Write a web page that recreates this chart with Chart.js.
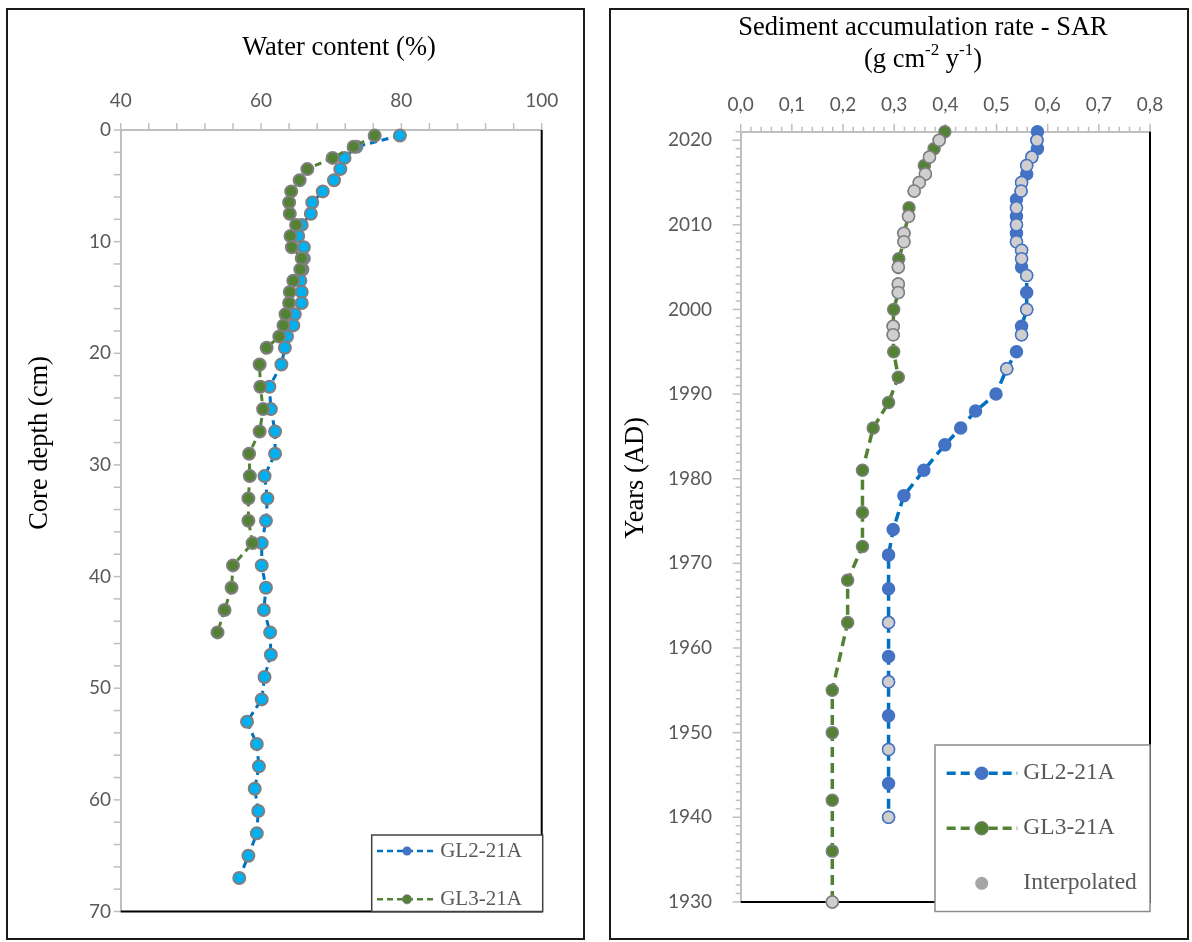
<!DOCTYPE html>
<html>
<head>
<meta charset="utf-8">
<title>Water content and sediment accumulation rate</title>
<script src="https://cdn.jsdelivr.net/npm/chart.js@4.4.1/dist/chart.umd.min.js"></script>
<style>
  html, body { margin: 0; padding: 0; background: #ffffff; }
  body { width: 1192px; height: 942px; position: relative; overflow: hidden; }
  .frame { position: absolute; border: 2px solid #1a1a1a; box-sizing: border-box; }
  #frameWater { left: 6px; top: 8px; width: 579px; height: 932px; }
  #frameSar { left: 609px; top: 8px; width: 580px; height: 932px; }
  canvas { position: absolute; top: 0; }
  #water { left: 0; }
  #sar { left: 596px; }
</style>
</head>
<body>
<div class="frame" id="frameWater"></div>
<div class="frame" id="frameSar"></div>
<canvas id="water" width="596" height="942"></canvas>
<canvas id="sar" width="596" height="942"></canvas>
<script>
// ---- Water content profiles: core depth (cm) and water content (%) ----
const depthGL2 = [0.5, 1.5, 2.5, 3.5, 4.5, 5.5, 6.5, 7.5, 8.5, 9.5, 10.5, 11.5, 12.5, 13.5, 14.5, 15.5, 16.5, 17.5, 18.5, 19.5,
                  21, 23, 25, 27, 29, 31, 33, 35, 37, 39, 41, 43, 45, 47, 49, 51, 53, 55, 57, 59, 61, 63, 65, 67];
const waterGL2 = [79.8, 73.6, 71.9, 71.3, 70.4, 68.8, 67.3, 67.1, 65.8, 65.3, 66.1, 66.1, 65.9, 65.6, 65.8, 65.8, 64.8, 64.6, 63.7, 63.4,
                  62.9, 61.2, 61.4, 62.0, 62.0, 60.5, 60.9, 60.7, 60.1, 60.1, 60.7, 60.4, 61.3, 61.4, 60.5, 60.1, 58.0, 59.4, 59.7, 59.1, 59.6, 59.4, 58.2, 56.9];
const depthGL3 = [0.5, 1.5, 2.5, 3.5, 4.5, 5.5, 6.5, 7.5, 8.5, 9.5, 10.5, 11.5, 12.5, 13.5, 14.5, 15.5, 16.5, 17.5, 18.5, 19.5,
                  21, 23, 25, 27, 29, 31, 33, 35, 37, 39, 41, 43, 45];
const waterGL3 = [76.2, 73.2, 70.2, 66.6, 65.5, 64.3, 64.0, 64.1, 65.0, 64.2, 64.4, 65.8, 65.6, 64.6, 64.1, 64.0, 63.5, 63.2, 62.6, 60.8,
                  59.8, 59.9, 60.3, 59.8, 58.3, 58.4, 58.2, 58.2, 58.8, 56.0, 55.8, 54.8, 53.8];

// ---- Sediment accumulation rate (g cm-2 y-1) per year; 1 marks an interpolated value ----
const yearGL2 = [2021, 2020, 2019, 2018, 2017, 2016, 2015, 2014, 2013, 2012, 2011, 2010, 2009, 2008, 2007, 2006, 2005, 2004, 2002, 2000,
                 1998, 1997, 1995, 1993, 1990, 1988, 1986, 1984, 1981, 1978, 1974, 1971, 1967, 1963, 1959, 1956, 1952, 1948, 1944, 1940];
const sarGL2 = [0.580, 0.579, 0.580, 0.569, 0.559, 0.559, 0.549, 0.548, 0.539, 0.539, 0.539, 0.539, 0.539, 0.539, 0.549, 0.549, 0.549, 0.559, 0.559, 0.559,
                0.549, 0.549, 0.539, 0.520, 0.499, 0.459, 0.430, 0.399, 0.358, 0.319, 0.298, 0.289, 0.289, 0.289, 0.289, 0.289, 0.289, 0.289, 0.289, 0.289];
const interpGL2 = [0, 1, 0, 1, 1, 0, 1, 1, 0, 1, 0, 1, 0, 1, 1, 1, 0, 1, 0, 1,
                   0, 1, 0, 1, 0, 0, 0, 0, 0, 0, 0, 0, 0, 1, 0, 1, 0, 1, 0, 1];
const yearGL3 = [2021, 2020, 2019, 2018, 2017, 2016, 2015, 2014, 2012, 2011, 2009, 2008, 2006, 2005, 2003, 2002, 2000, 1998, 1997, 1995,
                 1992, 1989, 1986, 1981, 1976, 1972, 1968, 1963, 1955, 1950, 1942, 1936, 1930];
const sarGL3 = [0.399, 0.388, 0.378, 0.369, 0.359, 0.361, 0.349, 0.339, 0.329, 0.328, 0.319, 0.319, 0.309, 0.308, 0.308, 0.308, 0.299, 0.298, 0.298, 0.299,
                0.308, 0.289, 0.259, 0.238, 0.238, 0.238, 0.209, 0.209, 0.179, 0.179, 0.179, 0.179, 0.179];
const interpGL3 = [0, 1, 0, 1, 0, 1, 1, 1, 0, 1, 1, 1, 0, 1, 1, 1, 0, 1, 1, 0,
                   0, 0, 0, 0, 0, 0, 0, 0, 0, 0, 0, 0, 1];

// ---- Axis ticks ----
const waterTicks = [40, 60, 80, 100];
const depthTicks = [0, 10, 20, 30, 40, 50, 60, 70];
const sarTicks = [0, 0.1, 0.2, 0.3, 0.4, 0.5, 0.6, 0.7, 0.8];
const yearTicks = [1930, 1940, 1950, 1960, 1970, 1980, 1990, 2000, 2010, 2020];

// ---- Text ----
const SERIES_GL2 = 'GL2-21A';
const SERIES_GL3 = 'GL3-21A';
const SERIES_INTERP = 'Interpolated';
const TITLE_WATER = 'Water content (%)';
const TITLE_DEPTH = 'Core depth (cm)';
const TITLE_SAR = 'Sediment accumulation rate - SAR';
const TITLE_SAR_UNITS = [{ text: '(g cm' }, { text: '-2', sup: true }, { text: ' y' }, { text: '-1', sup: true }, { text: ')' }];
const TITLE_YEARS = 'Years (AD)';

const SERIF = '"Liberation Serif", "Times New Roman", serif';
const SANS = 'Lato, "Open Sans", sans-serif';
const AXIS_GREY = '#BFBFBF';
const LABEL_GREY = '#595959';

// Tick marks (major + minor) drawn from the scales
const tickMarks = {
  id: 'tickMarks',
  beforeDatasetsDraw(chart, args, o) {
    const ctx = chart.ctx;
    ctx.save();
    ctx.strokeStyle = o.color;
    ctx.lineWidth = o.width;
    for (const a of o.axes) {
      const s = chart.scales[a.id];
      const n = Math.round((s.max - s.min) / a.minor);
      for (let i = 0; i <= n; i++) {
        const v = s.min + i * a.minor;
        const k = (v - a.base) / a.major;
        const len = Math.abs(k - Math.round(k)) < 1e-6 ? a.majorLen : a.minorLen;
        const p = s.getPixelForValue(v);
        ctx.beginPath();
        if (s.isHorizontal()) { ctx.moveTo(p, s.bottom); ctx.lineTo(p, s.bottom - len); }
        else { ctx.moveTo(s.right, p); ctx.lineTo(s.right - len, p); }
        ctx.stroke();
      }
    }
    ctx.restore();
  }
};

// Black edges on the right and bottom of the plot area
const plotFrame = {
  id: 'plotFrame',
  beforeDatasetsDraw(chart, args, o) {
    const { ctx, chartArea: a } = chart;
    ctx.save();
    ctx.strokeStyle = o.color;
    ctx.lineWidth = o.width;
    ctx.beginPath();
    ctx.moveTo(a.right, a.top);
    ctx.lineTo(a.right, a.bottom);
    ctx.lineTo(a.left, a.bottom);
    ctx.stroke();
    ctx.restore();
  }
};

// Boxed legend inside the plot area
const boxLegend = {
  id: 'boxLegend',
  afterDraw(chart, args, o) {
    const ctx = chart.ctx;
    ctx.save();
    ctx.fillStyle = '#ffffff';
    ctx.fillRect(o.x, o.y, o.w, o.h);
    ctx.strokeStyle = o.border;
    ctx.lineWidth = o.borderWidth;
    ctx.strokeRect(o.x, o.y, o.w, o.h);
    o.items.forEach((it, i) => {
      const y = o.y + o.firstY + i * o.step;
      if (it.line) {
        ctx.setLineDash(it.dash);
        ctx.strokeStyle = it.line;
        ctx.lineWidth = it.lineWidth;
        ctx.beginPath();
        ctx.moveTo(o.x + o.lineX0, y);
        ctx.lineTo(o.x + o.lineX1, y);
        ctx.stroke();
        ctx.setLineDash([]);
      }
      ctx.beginPath();
      ctx.arc(o.x + o.markX, y, it.r, 0, Math.PI * 2);
      ctx.fillStyle = it.fill;
      ctx.fill();
      if (it.stroke) { ctx.strokeStyle = it.stroke; ctx.lineWidth = it.strokeWidth; ctx.stroke(); }
      ctx.fillStyle = o.color;
      ctx.font = o.font;
      ctx.textAlign = 'left';
      ctx.textBaseline = 'middle';
      ctx.fillText(it.label, o.x + o.textX, y);
    });
    ctx.restore();
  }
};

// Chart and axis titles (supports superscript parts)
const textLayer = {
  id: 'textLayer',
  afterDraw(chart, args, o) {
    const ctx = chart.ctx;
    for (const t of o.items) {
      ctx.save();
      ctx.translate(t.x, t.y);
      if (t.rotate) ctx.rotate(t.rotate);
      ctx.fillStyle = t.color || '#000000';
      ctx.textBaseline = 'middle';
      ctx.textAlign = 'left';
      const parts = t.parts || [{ text: t.text }];
      let total = 0;
      const sized = parts.map(p => {
        const f = `${p.sup ? t.supSize : t.size}px ${SERIF}`;
        ctx.font = f;
        const w = ctx.measureText(p.text).width;
        total += w;
        return { p, f, w };
      });
      let x = -total / 2;
      for (const s of sized) {
        ctx.font = s.f;
        ctx.fillText(s.p.text, x, s.p.sup ? -t.supRise : 0);
        x += s.w;
      }
      ctx.restore();
    }
  }
};

const tickFont = { family: SANS, size: 19 };

function axisBase(padding) {
  return {
    type: 'linear',
    grid: { display: false, drawTicks: false },
    border: { display: true, color: AXIS_GREY, width: 2 },
    ticks: { color: LABEL_GREY, font: tickFont, autoSkip: false, maxRotation: 0, padding: padding }
  };
}

// ---------------- Water content chart ----------------
const waterX = Object.assign(axisBase(18), {
  position: 'top', min: 40, max: 100,
  afterBuildTicks: ax => { ax.ticks = waterTicks.map(v => ({ value: v })); },
  afterFit: ax => { ax.height = 130; }
});

const waterY = Object.assign(axisBase(9.7), {
  position: 'left', reverse: true, min: 0, max: 70,
  afterBuildTicks: ax => { ax.ticks = depthTicks.map(v => ({ value: v })); },
  afterFit: ax => { ax.width = 120.7; }
});

new Chart(document.getElementById('water'), {
  type: 'scatter',
  data: {
    datasets: [
      {
        label: SERIES_GL2,
        data: depthGL2.map((d, i) => ({ x: waterGL2[i], y: d })),
        showLine: true, borderColor: '#0070C0', borderWidth: 3, borderDash: [7, 5],
        pointRadius: 6, pointBackgroundColor: '#00B0F0', pointBorderColor: '#7F7F7F', pointBorderWidth: 2,
        order: 2, clip: false
      },
      {
        label: SERIES_GL3,
        data: depthGL3.map((d, i) => ({ x: waterGL3[i], y: d })),
        showLine: true, borderColor: '#548235', borderWidth: 3, borderDash: [7, 5],
        pointRadius: 6, pointBackgroundColor: '#548235', pointBorderColor: '#7F7F7F', pointBorderWidth: 2,
        order: 1, clip: false
      }
    ]
  },
  options: {
    responsive: false, animation: false, devicePixelRatio: 1, events: [],
    layout: { padding: { left: 0, top: 0, right: 54.3, bottom: 30.5 } },
    scales: { x: waterX, y: waterY },
    plugins: {
      legend: { display: false },
      tooltip: { enabled: false },
      tickMarks: {
        color: AXIS_GREY, width: 1.5,
        axes: [
          { id: 'x', base: 40, major: 20, minor: 4, majorLen: 7, minorLen: 7 },
          { id: 'y', base: 0, major: 10, minor: 2, majorLen: 7, minorLen: 7 }
        ]
      },
      plotFrame: { color: '#000000', width: 2 },
      boxLegend: {
        x: 371.7, y: 835, w: 171, h: 76.5, border: '#404040', borderWidth: 1.5,
        firstY: 16, step: 48.3, lineX0: 5.3, lineX1: 65.3, markX: 35.3, textX: 68.5,
        color: LABEL_GREY, font: `21px ${SERIF}`,
        items: [
          { label: SERIES_GL2, line: '#0070C0', dash: [6, 4], lineWidth: 2.5, fill: '#4472C4', r: 4.5 },
          { label: SERIES_GL3, line: '#548235', dash: [6, 4], lineWidth: 2.5, fill: '#548235', stroke: '#7F7F7F', strokeWidth: 1, r: 4.5 }
        ]
      },
      textLayer: {
        items: [
          { text: TITLE_WATER, x: 339, y: 48, size: 26.5 },
          { text: TITLE_DEPTH, x: 40, y: 443, size: 26.5, rotate: -Math.PI / 2 }
        ]
      }
    }
  },
  plugins: [tickMarks, plotFrame, boxLegend, textLayer]
});

// ---------------- Sediment accumulation rate chart ----------------
const sarX = Object.assign(axisBase(15), {
  position: 'top', min: 0, max: 0.8,
  afterBuildTicks: ax => { ax.ticks = sarTicks.map(v => ({ value: v })); },
  afterFit: ax => { ax.height = 131.7; }
});
sarX.ticks.callback = v => v.toFixed(1).replace('.', ',');

const sarY = Object.assign(axisBase(28.7), {
  position: 'left', min: 1930, max: 2021,
  afterBuildTicks: ax => { ax.ticks = yearTicks.map(v => ({ value: v })); },
  afterFit: ax => { ax.width = 144.7; }
});
sarY.ticks.callback = v => String(v);

const pick = (years, vals, flags, want) =>
  years.map((y, i) => ({ x: vals[i], y, f: flags[i] })).filter(p => p.f === want).map(p => ({ x: p.x, y: p.y }));

new Chart(document.getElementById('sar'), {
  type: 'scatter',
  data: {
    datasets: [
      {
        label: SERIES_GL2,
        data: yearGL2.map((y, i) => ({ x: sarGL2[i], y })),
        showLine: true, borderColor: '#0070C0', borderWidth: 3.5, borderDash: [10, 6],
        pointRadius: 6, pointBackgroundColor: '#4472C4', pointBorderColor: '#4472C4', pointBorderWidth: 1.5,
        order: 3, clip: false
      },
      {
        label: SERIES_GL3,
        data: yearGL3.map((y, i) => ({ x: sarGL3[i], y })),
        showLine: true, borderColor: '#548235', borderWidth: 3.5, borderDash: [10, 6],
        pointRadius: 6, pointBackgroundColor: '#548235', pointBorderColor: '#7F7F7F', pointBorderWidth: 1.5,
        order: 2, clip: false
      },
      {
        label: SERIES_INTERP,
        data: pick(yearGL2, sarGL2, interpGL2, 1),
        showLine: false,
        pointRadius: 6, pointBackgroundColor: '#D0CECE', pointBorderColor: '#4472C4', pointBorderWidth: 1.5,
        order: 1, clip: false
      },
      {
        label: SERIES_INTERP,
        data: pick(yearGL3, sarGL3, interpGL3, 1),
        showLine: false,
        pointRadius: 6, pointBackgroundColor: '#D0CECE', pointBorderColor: '#7F7F7F', pointBorderWidth: 1.5,
        order: 0, clip: false
      }
    ]
  },
  options: {
    responsive: false, animation: false, devicePixelRatio: 1, events: [],
    layout: { padding: { left: 0, top: 0, right: 42, bottom: 30.5 } },
    scales: { x: sarX, y: sarY },
    plugins: {
      legend: { display: false },
      tooltip: { enabled: false },
      tickMarks: {
        color: AXIS_GREY, width: 1.5,
        axes: [
          { id: 'x', base: 0, major: 0.1, minor: 0.02, majorLen: 8, minorLen: 5 },
          { id: 'y', base: 1930, major: 10, minor: 1, majorLen: 8, minorLen: 5 }
        ]
      },
      plotFrame: { color: '#000000', width: 2 },
      boxLegend: {
        x: 339, y: 745, w: 215, h: 166.5, border: '#8C8C8C', borderWidth: 1.5,
        firstY: 28.3, step: 55, lineX0: 11.7, lineX1: 82.3, markX: 46.7, textX: 88.3,
        color: LABEL_GREY, font: `23.5px ${SERIF}`,
        items: [
          { label: SERIES_GL2, line: '#0070C0', dash: [9, 5], lineWidth: 3.5, fill: '#4472C4', r: 6.7 },
          { label: SERIES_GL3, line: '#548235', dash: [9, 5], lineWidth: 3.5, fill: '#548235', stroke: '#7F7F7F', strokeWidth: 1, r: 6.7 },
          { label: SERIES_INTERP, fill: '#A5A5A5', r: 6.5 }
        ]
      },
      textLayer: {
        items: [
          { text: TITLE_SAR, x: 327, y: 28, size: 26.5 },
          { parts: TITLE_SAR_UNITS, x: 327, y: 60, size: 26.5, supSize: 17, supRise: 9 },
          { text: TITLE_YEARS, x: 40, y: 478, size: 26.5, rotate: -Math.PI / 2 }
        ]
      }
    }
  },
  plugins: [tickMarks, plotFrame, boxLegend, textLayer]
});
</script>
</body>
</html>
